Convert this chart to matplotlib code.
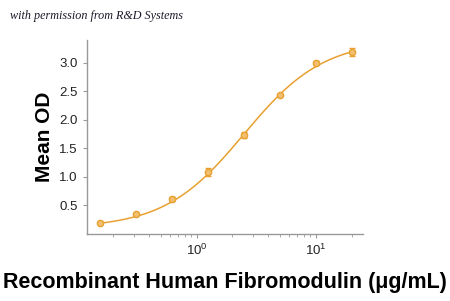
import numpy as np
import matplotlib.pyplot as plt
from matplotlib import ticker

# concentration (ug/mL), mean OD, error
conc = [0.156, 0.3125, 0.625, 1.25, 2.5, 5, 10, 20]
od = [0.19, 0.35, 0.61, 1.08, 1.74, 2.43, 3.00, 3.19]
err = [0.02, 0.02, 0.03, 0.07, 0.05, 0.02, 0.04, 0.07]

# four parameter logistic fit
fit_bottom = 0.10
fit_top = 3.40
fit_ec50 = 2.5
fit_hill = 1.3

col = '#E8A030'

fig = plt.figure(figsize=(4.5, 3.01), dpi=100)
ax = fig.add_axes([0.193, 0.223, 0.614, 0.644])

xs = np.logspace(np.log10(conc[0]), np.log10(conc[-1]), 200)
ys = fit_bottom + (fit_top - fit_bottom) / (1 + (fit_ec50 / xs) ** fit_hill)
ax.plot(xs, ys, color=col, lw=1.1)
ax.errorbar(conc, od, yerr=err, fmt='o', ms=4.5, color=col, mfc='#F2C070', mec=col,
            ecolor=col, elinewidth=1, capsize=2.5)

ax.set_xscale('log')
ax.set_xlim(0.12, 25)
ax.set_ylim(0, 3.4)
ax.set_yticks([0.5, 1.0, 1.5, 2.0, 2.5, 3.0])
ax.yaxis.set_major_formatter(ticker.FormatStrFormatter('%.1f'))
ax.xaxis.set_minor_locator(ticker.LogLocator(base=10, subs=np.arange(2, 10)))
ax.xaxis.set_minor_formatter(ticker.NullFormatter())

for s in ['top', 'right']:
    ax.spines[s].set_visible(False)
for s in ['left', 'bottom']:
    ax.spines[s].set_color('#999999')
    ax.spines[s].set_linewidth(1)
ax.tick_params(which='both', color='#999999', length=3, labelsize=9.5,
               labelcolor='#222222')
ax.tick_params(which='minor', length=2)
for lab in ax.get_xticklabels() + ax.get_yticklabels():
    lab.set_family(['Liberation Sans', 'DejaVu Sans'])

ax.set_ylabel('Mean OD', fontsize=15, fontweight='bold',
              family='Liberation Sans', labelpad=4)
fig.text(0.5, 0.06, 'Recombinant Human Fibromodulin (\u03bcg/mL)',
         ha='center', va='center', fontsize=15.5, fontweight='bold',
         family='Liberation Sans')
fig.text(0.022, 0.948, 'with permission from R&D Systems', ha='left',
         va='center', fontsize=8.7, style='italic', family='Liberation Serif',
         color='#1a1a2a')

fig.savefig('out.png', dpi=100)
